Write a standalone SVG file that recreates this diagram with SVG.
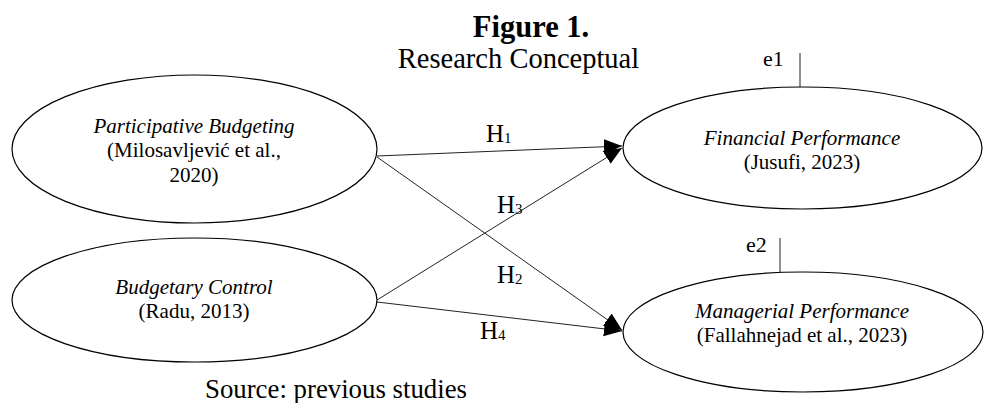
<svg xmlns="http://www.w3.org/2000/svg" width="986" height="403" viewBox="0 0 986 403">
<style>
text{font-family:"Liberation Serif","Times New Roman",serif;fill:#000}
.node{fill:#fff;stroke:#000;stroke-width:1.2}
.lbl{font-size:21px;text-anchor:middle}
.it{font-style:italic}
.h{font-size:25px}
.sub{font-size:15px}
.conn line{stroke:#222;stroke-width:1}
</style>
<defs>
<marker id="arr" markerUnits="userSpaceOnUse" markerWidth="20" markerHeight="16" refX="18" refY="8" orient="auto">
<path d="M0,0.5 L18,8 L0,15.5 Z" fill="#000"/>
</marker>
</defs>
<g id="title">
<text x="531" y="37" text-anchor="middle" font-size="30.5" font-weight="bold">Figure 1.</text>
<text x="518.5" y="68" text-anchor="middle" font-size="28.5">Research Conceptual</text>
</g>
<g class="conn" id="connectors">
<line x1="377" y1="156" x2="622" y2="146" marker-end="url(#arr)"/>
<line x1="377" y1="157" x2="622" y2="330" marker-end="url(#arr)"/>
<line x1="377" y1="300" x2="622" y2="148" marker-end="url(#arr)"/>
<line x1="377" y1="302" x2="622" y2="331" marker-end="url(#arr)"/>
<line x1="800" y1="53" x2="800" y2="87"/>
<line x1="780" y1="238" x2="780" y2="272"/>
</g>
<g id="labels">
<text x="486" y="142" class="h">H<tspan class="sub" dy="1">1</tspan></text>
<text x="497" y="213" class="h">H<tspan class="sub" dy="1">3</tspan></text>
<text x="497" y="283" class="h">H<tspan class="sub" dy="1">2</tspan></text>
<text x="480" y="339" class="h">H<tspan class="sub" dy="1">4</tspan></text>
<text x="763" y="66" font-size="22">e1</text>
<text x="746" y="252" font-size="22">e2</text>
</g>
<g id="participative">
<ellipse class="node" cx="194.5" cy="149" rx="182.5" ry="74"/>
<text class="lbl it" x="194" y="133">Participative Budgeting</text>
<text class="lbl" x="194" y="157">(Milosavljević et al.,</text>
<text class="lbl" x="194" y="182">2020)</text>
</g>
<g id="budgetary">
<ellipse class="node" cx="194.5" cy="300" rx="182.5" ry="62"/>
<text class="lbl it" x="194" y="294">Budgetary Control</text>
<text class="lbl" x="194" y="318">(Radu, 2013)</text>
</g>
<g id="financial">
<ellipse class="node" cx="802.5" cy="148" rx="179.5" ry="61"/>
<text class="lbl it" x="802" y="145">Financial Performance</text>
<text class="lbl" x="802" y="169">(Jusufi, 2023)</text>
</g>
<g id="managerial">
<ellipse class="node" cx="803" cy="332" rx="180" ry="60"/>
<text class="lbl it" x="802" y="318">Managerial Performance</text>
<text class="lbl" x="802" y="342">(Fallahnejad et al., 2023)</text>
</g>
<g id="source">
<text x="205" y="398" font-size="26.8">Source: previous studies</text>
</g>
</svg>
